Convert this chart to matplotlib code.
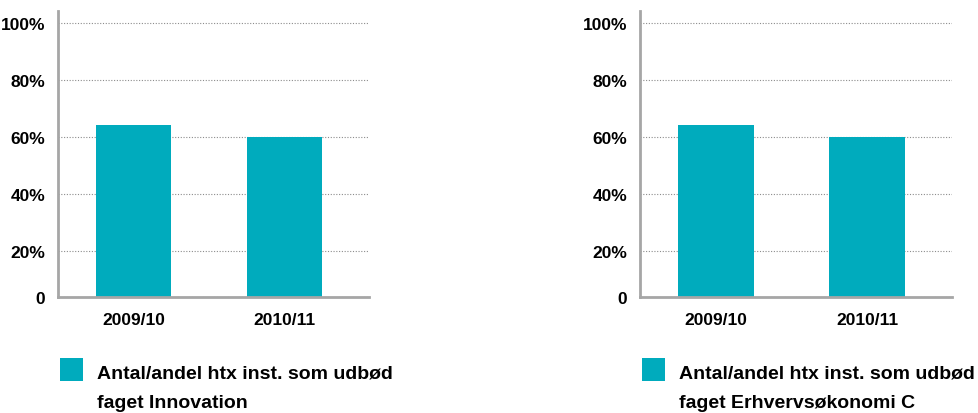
import matplotlib
matplotlib.use("Agg")
import matplotlib.pyplot as plt
from matplotlib.patches import Rectangle

plt.rcParams['font.family'] = ['Liberation Sans', 'DejaVu Sans']
plt.rcParams['font.weight'] = 'bold'

years = ["2009/10", "2010/11"]
innovation = [64.2, 60.1]
erhvervsokonomi = [64.2, 60.1]
panel_labels = [
    ["Antal/andel htx inst. som udbød", "faget Innovation"],
    ["Antal/andel htx inst. som udbød", "faget Erhvervsøkonomi C"],
]
tick_values = [20, 40, 60, 80, 100]
tick_labels = ["20%", "40%", "60%", "80%", "100%"]

bar_color = "#00ABBD"
axis_color = "#A6A6A6"
y_bottom, y_top = 3.9, 104.2

W, H = 979, 414
fig = plt.figure(figsize=(W / 100, H / 100), dpi=100)
axes = [
    fig.add_axes([58 / W, 1 - 298 / H, 311 / W, 286 / H]),
    fig.add_axes([640 / W, 1 - 298 / H, 312 / W, 286 / H]),
]
legend_x = [60, 642]  # left edge of the legend square, px

for ax, values, lines, lx in zip(axes, [innovation, erhvervsokonomi], panel_labels, legend_x):
    x = range(len(years))
    ax.bar(x, values, width=0.5, color=bar_color, zorder=3)
    ax.set_xlim(-0.5, 1.56)
    ax.set_ylim(y_bottom, y_top)

    ax.set_yticks([y_bottom] + tick_values)
    ax.set_yticklabels(["0"] + tick_labels)
    ax.set_xticks(list(x))
    ax.set_xticklabels(years)
    ax.tick_params(axis='both', length=0, labelsize=12.5, pad=9)
    ax.tick_params(axis='x', pad=11)

    ax.yaxis.grid(True, linestyle=(0, (1, 1.5)), color="#8C8C8C", linewidth=0.8, zorder=1)
    ax.xaxis.grid(False)

    for side in ["top", "right"]:
        ax.spines[side].set_visible(False)
    for side in ["left", "bottom"]:
        ax.spines[side].set_color(axis_color)
        ax.spines[side].set_linewidth(2)
        ax.spines[side].set_zorder(4)

    # legend: square swatch + two lines of text
    fig.patches.append(Rectangle((lx / W, 1 - 382 / H), 23 / W, 23 / H,
                                 transform=fig.transFigure, facecolor=bar_color,
                                 edgecolor="none"))
    for line, baseline in zip(lines, [379, 408]):
        fig.text((lx + 37) / W, 1 - baseline / H, line, fontsize=14,
                 ha="left", va="baseline")

fig.savefig("out.png", dpi=100)
